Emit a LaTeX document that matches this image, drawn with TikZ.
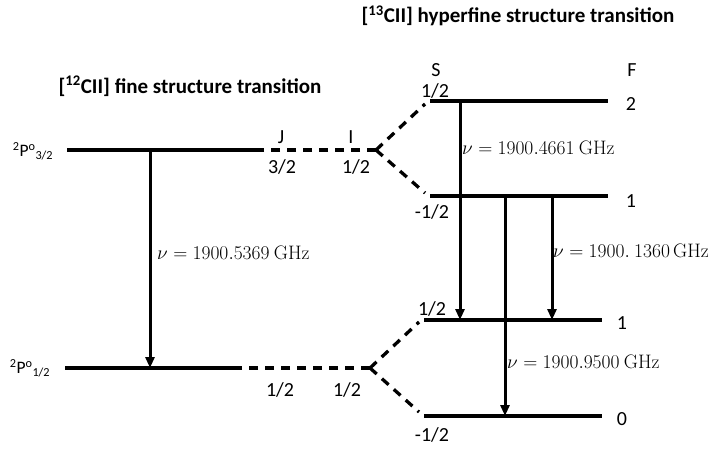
\RequirePackage{fix-cm}
\documentclass[tikz,border=0pt]{standalone}
\usepackage[no-math]{fontspec}
\setmainfont{Carlito}
\usetikzlibrary{arrows.meta}
\begin{document}
\begin{tikzpicture}[x=1pt,y=-1pt,
  level/.style={line width=3.4pt},
  link/.style={line width=3.3pt,dash pattern=on 9pt off 7pt},
  trans/.style={line width=3pt,-{Triangle[length=11pt,width=9pt]}},
  lab/.style={inner sep=0pt,font=\fontsize{20}{24}\selectfont},
  term/.style={inner sep=0pt,font=\fontsize{17.5}{21}\selectfont},
  ttl/.style={inner sep=0pt,font=\fontsize{21}{25}\selectfont\bfseries},
  freq/.style={inner sep=0pt,anchor=west,font=\fontsize{19.5}{23}\selectfont}]
\useasboundingbox (0,0) rectangle (710,450);
% level end points
\coordinate (ulA) at (67,150);  \coordinate (ulB) at (258,150);
\coordinate (llA) at (65,368);  \coordinate (llB) at (240,368);
\coordinate (u2A) at (430,101); \coordinate (u2B) at (608,101);
\coordinate (u1A) at (430,196); \coordinate (u1B) at (608,196);
\coordinate (l1A) at (424,320); \coordinate (l1B) at (602,320);
\coordinate (l0A) at (424,416); \coordinate (l0B) at (602,416);
% branch points and dashed ends
\coordinate (ub) at (376,150);
\coordinate (ubU) at (425,104); \coordinate (ubD) at (425,193);
\coordinate (lb) at (370,368);
\coordinate (lbU) at (419,322); \coordinate (lbD) at (419,412);
% levels
\draw[level] (ulA) -- (ulB);
\draw[level] (llA) -- (llB);
\draw[level] (u2A) -- (u2B);
\draw[level] (u1A) -- (u1B);
\draw[level] (l1A) -- (l1B);
\draw[level] (l0A) -- (l0B);
% dashed links
\draw[link] (ub) -- (ulB);
\draw[link] (ub) -- (ubU);
\draw[link] (ub) -- (ubD);
\draw[link] (lb) -- (llB);
\draw[link] (lb) -- (lbU);
\draw[link] (lb) -- (lbD);
% transitions
\coordinate (a1) at (150,150); \coordinate (a2) at (150,368);
\coordinate (b1) at (460,101); \coordinate (b2) at (460,320);
\coordinate (c1) at (505,196); \coordinate (c2) at (505,416);
\coordinate (d1) at (552,196); \coordinate (d2) at (552,320);
\draw[trans] (a1) -- (a2);
\draw[trans] (b1) -- (b2);
\draw[trans] (c1) -- (c2);
\draw[trans] (d1) -- (d2);
% frequency labels
\node[freq] (fa) at (157,253) {$\nu = 1900.5369\ \mathrm{GHz}$};
\node[freq] (fb) at (462,148) {$\nu = 1900.4661\ \mathrm{GHz}$};
\node[freq] (fc) at (553,251) {$\nu = 1900.\ 1360\,\mathrm{GHz}$};
\node[freq] (fd) at (507,362) {$\nu = 1900.9500\ \mathrm{GHz}$};
% titles
\node[ttl] (t13) at (518,16) {[\textsuperscript{13}CII] hyperfine structure transition};
\node[ttl] (t12) at (190,86) {[\textsuperscript{12}CII] fine structure transition};
% term labels
\node[term] (p32) at (33,151) {\textsuperscript{2}P\textsuperscript{o}\textsubscript{3/2}};
\node[term] (p12) at (30,368) {\textsuperscript{2}P\textsuperscript{o}\textsubscript{1/2}};
% quantum numbers
\node[lab] (J) at (281,137) {J};
\node[lab] (I) at (351,137) {I};
\node[lab] (j32) at (282,167) {3/2};
\node[lab] (i12) at (356,167) {1/2};
\node[lab] (j12) at (280,390) {1/2};
\node[lab] (i12b) at (347,390) {1/2};
\node[lab] (S) at (436,70) {S};
\node[lab] (F) at (632,70) {F};
\node[lab] (s1) at (435,91) {1/2};
\node[lab] (s2) at (432,212) {-1/2};
\node[lab] (s3) at (432,309) {1/2};
\node[lab] (s4) at (432,435) {-1/2};
\node[lab] (f2) at (631,104) {2};
\node[lab] (f1) at (631,201) {1};
\node[lab] (f1b) at (622,323) {1};
\node[lab] (f0) at (622,419) {0};
\end{tikzpicture}
\end{document}
